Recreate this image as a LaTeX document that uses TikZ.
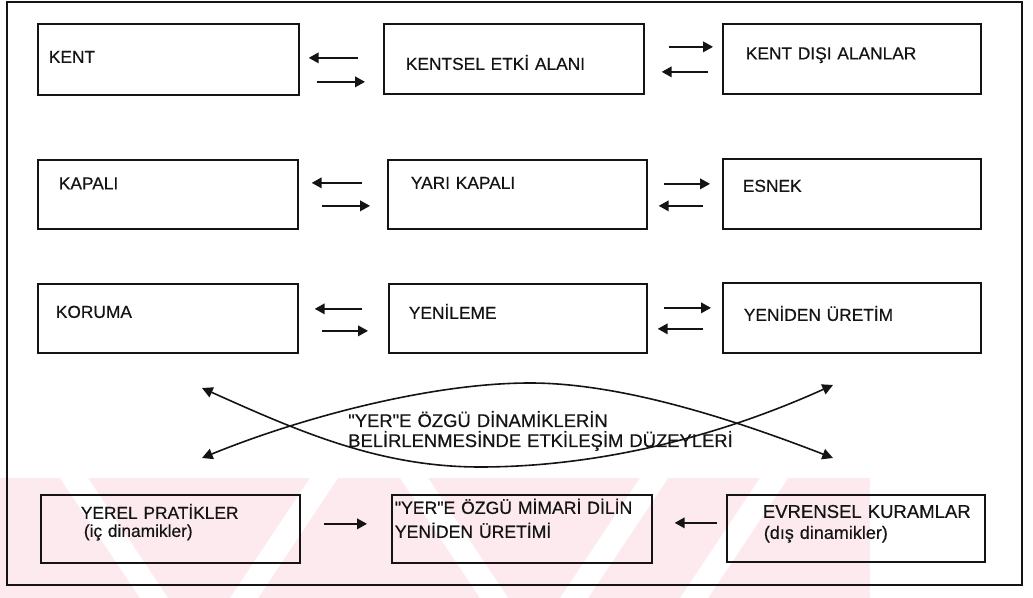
\documentclass[tikz,border=0pt]{standalone}
\usepackage{fontspec}
\setmainfont{Liberation Sans}[Ligatures=TeXOff,FakeBold=0.5]
\usetikzlibrary{arrows.meta,calc}
\definecolor{wmpink}{RGB}{252,234,238}
\definecolor{ink}{RGB}{20,20,20}
\begin{document}
\begin{tikzpicture}[x=0.75pt,y=-0.75pt,
  box/.style={draw=ink, line width=1.3pt, inner sep=0pt, align=left, anchor=north west,
    font=\fontsize{13}{15}\selectfont, text=ink},
  arr/.style={draw=ink, line width=1.3pt, -{Triangle[length=7.5pt,width=8pt]}},
  darr/.style={draw=ink, line width=1.2pt,
    {Triangle[length=8pt,width=8pt]}-{Triangle[length=8pt,width=8pt]}},
  stripe/.style={fill=white},
]
\useasboundingbox (0,0) rectangle (1033,598);
% watermark band
\begin{scope}
  \clip (0,478) rectangle (870,598);
  \fill[wmpink] (0,478) rectangle (870,598);
  \fill[stripe] (60,478) -- (88,478) -- (168,598) -- (140,598) -- cycle;
  \fill[stripe] (310,478) -- (338,478) -- (258,598) -- (230,598) -- cycle;
  \fill[stripe] (400,478) -- (428,478) -- (508,598) -- (480,598) -- cycle;
  \fill[stripe] (640,478) -- (668,478) -- (588,598) -- (560,598) -- cycle;
  \fill[stripe] (760,478) -- (788,478) -- (708,598) -- (680,598) -- cycle;
\end{scope}
% outer frame
\draw[ink, line width=0.9pt] (7,2) rectangle (1022,585);

% row 1
\node[box, text width=195.75pt, text height=29.25pt, text depth=24pt] (k1) at (37,23) {\hspace*{8.25pt}KENT};
\node[box, text width=195pt, text height=34.5pt, text depth=18pt] (k2) at (383,23) {\hspace*{16.5pt}KENTSEL ETKİ ALANI};
\node[box, text width=193.5pt, text height=26.625pt, text depth=25.875pt] (k3) at (722,23) {\hspace*{17.25pt}KENT DIŞI ALANLAR};
% row 2
\node[box, text width=195pt, text height=22.125pt, text depth=29.625pt] (a1) at (37,159) {\hspace*{15.75pt}KAPALI};
\node[box, text width=194.25pt, text height=21.75pt, text depth=30pt] (a2) at (387,159) {\hspace*{17.25pt}YARI KAPALI};
\node[box, text width=193.5pt, text height=24.75pt, text depth=27.75pt] (a3) at (722,158) {\hspace*{15pt}ESNEK};
% row 3
\node[box, text width=195pt, text height=25.5pt, text depth=26.25pt] (b1) at (37,283) {\hspace*{13.5pt}KORUMA};
\node[box, text width=193.5pt, text height=26.25pt, text depth=25.5pt] (b2) at (388,283) {\hspace*{15pt}YENİLEME};
\node[box, text width=193.5pt, text height=28.5pt, text depth=24pt] (b3) at (722,282) {\hspace*{15.75pt}YENİDEN ÜRETİM};
% row 4
\node[box, font=\fontsize{13}{13.5}\selectfont, text width=194.25pt, text height=18pt, text depth=33pt] (c1) at (40,494)
  {\hspace*{30pt}YEREL PRATİKLER\\\hspace*{32.25pt}(iç dinamikler)};
\node[box, font=\fontsize{13.2}{18}\selectfont, text width=195pt, text height=14.25pt, text depth=36.75pt] (c2) at (391,494)
  {\hspace*{2.25pt}"YER"E ÖZGÜ MİMARİ DİLİN\\\hspace*{2.25pt}YENİDEN ÜRETİMİ};
\node[box, font=\fontsize{13.5}{15.75}\selectfont, text width=193.5pt, text height=17.25pt, text depth=33pt] (c3) at (726,494)
  {\hspace*{27pt}{\fontsize{13.9}{15.75}\selectfont EVRENSEL KURAMLAR}\\\hspace*{27.75pt}(dış dinamikler)};

% central label
\node[inner sep=0pt, anchor=base west, text width=320pt, align=left,
  font=\fontsize{13.8}{15}\selectfont, text=ink] (ell) at (348,427)
  {"YER"E ÖZGÜ DİNAMİKLERİN\\BELİRLENMESİNDE ETKİLEŞİM DÜZEYLERİ};

% crossing curves
\coordinate (ul) at (202,388);
\coordinate (ur) at (833,385);
\coordinate (ll) at (202,458);
\coordinate (lr) at (833,458);
\draw[darr] (ul) .. controls (300,432) and (380,467) .. (480,467)
  .. controls (580,467) and (700,445) .. (ur);
\draw[darr] (ll) .. controls (300,418) and (430,383) .. (530,383)
  .. controls (620,383) and (730,418) .. (lr);

% arrows row 1
\draw[arr] ([shift={(-25,-1)}]k2.west) -- ([shift={(9,-1.5)}]k1.east);
\draw[arr] ([shift={(17,22.5)}]k1.east) -- ([shift={(-18,23)}]k2.west);
\draw[arr] ([shift={(24,-12)}]k2.east) -- ([shift={(-9,-12)}]k3.west);
\draw[arr] ([shift={(-14,13)}]k3.west) -- ([shift={(17,13)}]k2.east);
% arrows row 2
\draw[arr] ([shift={(-25,-11.5)}]a2.west) -- ([shift={(13,-11.5)}]a1.east);
\draw[arr] ([shift={(23,11.5)}]a1.east) -- ([shift={(-17,11.5)}]a2.west);
\draw[arr] ([shift={(16,-10.5)}]a2.east) -- ([shift={(-12,-10)}]a3.west);
\draw[arr] ([shift={(-19,12)}]a3.west) -- ([shift={(11,11.5)}]a2.east);
% arrows row 3
\draw[arr] ([shift={(-26,-9.5)}]b2.west) -- ([shift={(16,-9.5)}]b1.east);
\draw[arr] ([shift={(23,12.5)}]b1.east) -- ([shift={(-20,12.5)}]b2.west);
\draw[arr] ([shift={(16,-10.5)}]b2.east) -- ([shift={(-11,-10)}]b3.west);
\draw[arr] ([shift={(-19,11)}]b3.west) -- ([shift={(10,10.5)}]b2.east);
% arrows row 4
\draw[arr] ([shift={(23,-5)}]c1.east) -- ([shift={(-24,-5)}]c2.west);
\draw[arr] ([shift={(-9,-5.5)}]c3.west) -- ([shift={(22,-6)}]c2.east);
\end{tikzpicture}
\end{document}
